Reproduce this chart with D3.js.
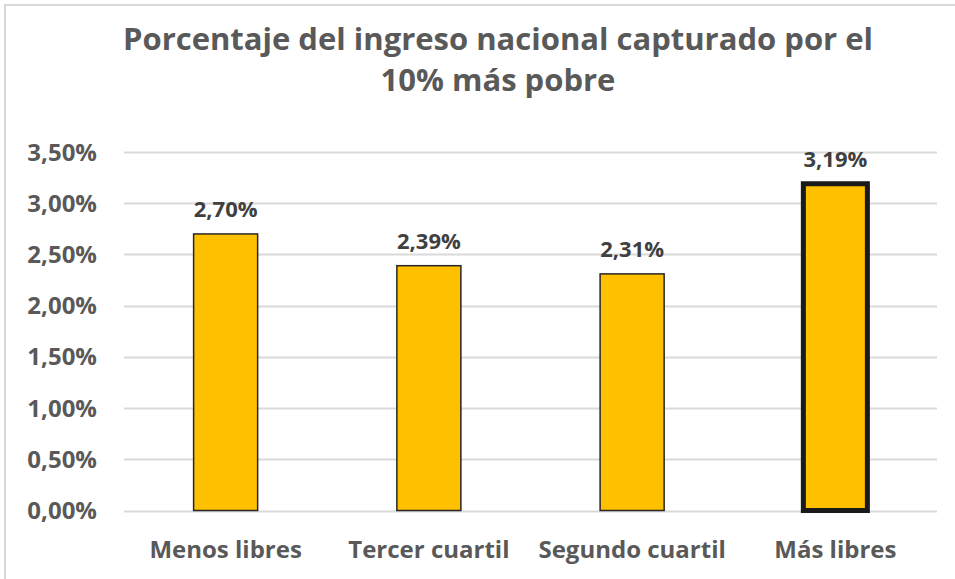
<!DOCTYPE html>
<html>
  <head>
    <meta charset="utf-8" />
    <style>
    body {
      margin: 0;
      background: #fff;
    }
    text {
      font-family: "Open Sans", Lato, sans-serif;
      font-weight: bold;
    }
    </style>
    <script src="https://cdn.jsdelivr.net/npm/d3@7"></script>
  </head>
  <body>
    <script>
    var categories = ["Menos libres", "Tercer cuartil", "Segundo cuartil", "Más libres"];
    var values = [2.70, 2.39, 2.31, 3.19];
    var valueLabels = ["2,70%", "2,39%", "2,31%", "3,19%"];
    var ticks = [0, 0.5, 1, 1.5, 2, 2.5, 3, 3.5];
    var tickLabels = ["0,00%", "0,50%", "1,00%", "1,50%", "2,00%", "2,50%", "3,00%", "3,50%"];
    var titleLines = ["Porcentaje del ingreso nacional capturado por el", "10% más pobre"];

    var width = 955, height = 579;
    var margin = {left: 124, right: 18, top: 152, bottom: 69};

    var svg = d3.select("body").append("svg")
        .attr("width", width)
        .attr("height", height);

    // outer frame (only top and left edges are visible in the picture)
    svg.append("path")
        .attr("d", "M5,579 V5 H955")
        .style("fill", "none")
        .style("stroke", "#d9d9d9")
        .style("stroke-width", 2);

    var x = d3.scaleBand()
        .domain(categories)
        .range([margin.left, width - margin.right])
        .paddingInner(0.685)
        .paddingOuter(0.3425);

    var y = d3.scaleLinear()
        .domain([0, 3.5])
        .range([510.5, margin.top]);

    // gridlines
    svg.append("g")
      .selectAll("line")
      .data(ticks)
      .enter().append("line")
        .attr("x1", margin.left)
        .attr("x2", width - margin.right)
        .attr("y1", function(d) { return Math.round(y(d)) + 0.5; })
        .attr("y2", function(d) { return Math.round(y(d)) + 0.5; })
        .style("stroke", "#d9d9d9")
        .style("stroke-width", 2);

    // y labels
    svg.append("g")
      .selectAll("text")
      .data(ticks)
      .enter().append("text")
        .attr("x", 97)
        .attr("y", function(d) { return y(d); })
        .attr("dy", "0.36em")
        .attr("text-anchor", "end")
        .style("font-size", "24px")
        .style("fill", "#595959")
        .text(function(d, i) { return tickLabels[i]; });

    // bars
    svg.append("g")
      .selectAll("rect")
      .data(values)
      .enter().append("rect")
        .attr("x", function(d, i) { return x(categories[i]); })
        .attr("width", x.bandwidth())
        .attr("y", function(d) { return y(d); })
        .attr("height", function(d) { return y(0) - y(d); })
        .style("fill", "#ffc000")
        .style("stroke", function(d, i) { return i == 3 ? "#1a1a1a" : "#262626"; })
        .style("stroke-width", function(d, i) { return i == 3 ? 5 : 1.5; });

    // value labels
    svg.append("g")
      .selectAll("text")
      .data(values)
      .enter().append("text")
        .attr("x", function(d, i) { return x(categories[i]) + x.bandwidth() / 2; })
        .attr("y", function(d) { return y(d) - 17; })
        .attr("text-anchor", "middle")
        .style("font-size", "22px")
        .style("fill", "#404040")
        .text(function(d, i) { return valueLabels[i]; });

    // category labels
    svg.append("g")
      .selectAll("text")
      .data(categories)
      .enter().append("text")
        .attr("x", function(d) { return x(d) + x.bandwidth() / 2; })
        .attr("y", 558)
        .attr("text-anchor", "middle")
        .style("font-size", "24px")
        .style("fill", "#595959")
        .text(function(d) { return d; });

    // title
    svg.append("g")
      .selectAll("text")
      .data(titleLines)
      .enter().append("text")
        .attr("x", 498)
        .attr("y", function(d, i) { return 50 + i * 41; })
        .attr("text-anchor", "middle")
        .style("font-size", "31px")
        .style("fill", "#595959")
        .text(function(d) { return d; });
    </script>
  </body>
</html>
